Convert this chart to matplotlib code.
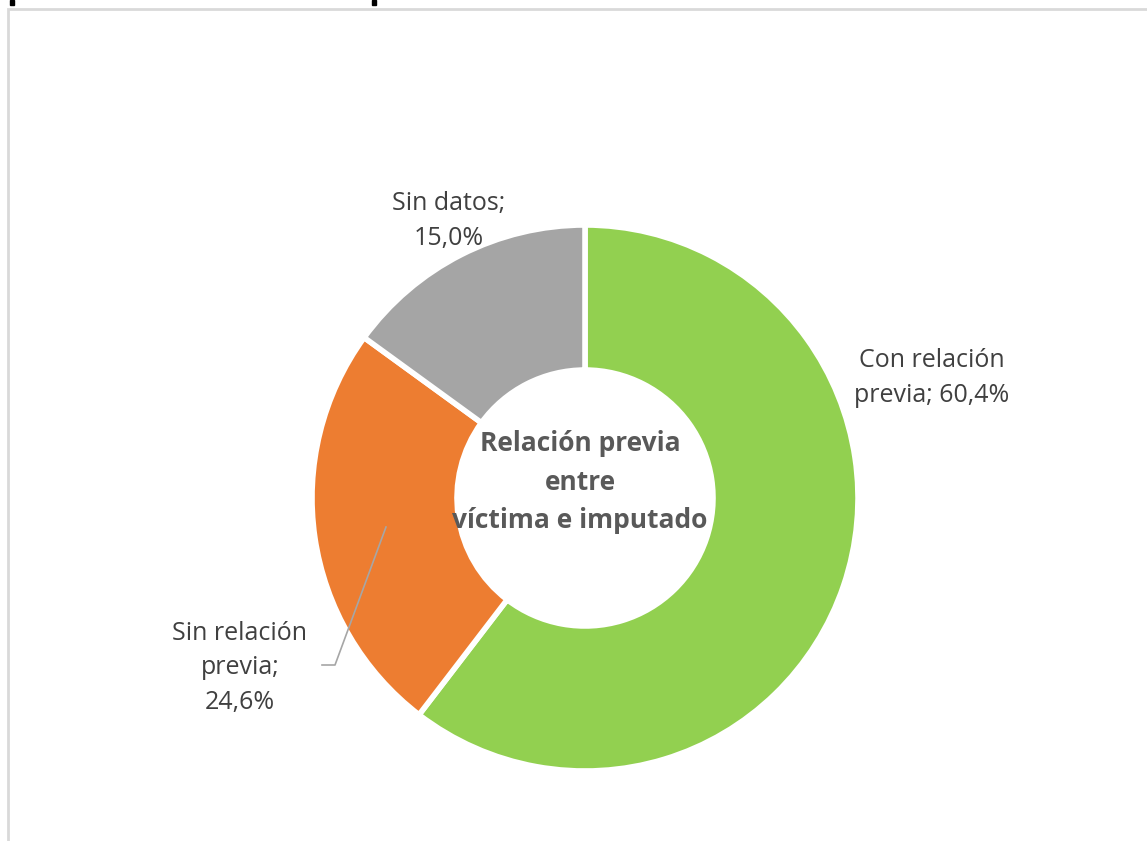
import matplotlib
matplotlib.use("Agg")
import matplotlib.pyplot as plt
from matplotlib.patches import Rectangle

categories = ["Con relación previa", "Sin relación previa", "Sin datos"]
values = [60.4, 24.6, 15.0]
colors = ["#92D050", "#ED7D31", "#A5A5A5"]
center_title = "Relación previa\nentre\nvíctima e imputado"

W, H = 1147, 841

def fmt(v):
    return f"{v:.1f}".replace(".", ",") + "%"

fig = plt.figure(figsize=(W / 100, H / 100), dpi=100)
ax = fig.add_axes([0, 0, 1, 1])

# pixel coords measured from top, flipped for the axes
cx, cy = 585, H - 498
r_out, r_in = 273, 128

ax.pie(values, colors=colors, startangle=90, counterclock=False,
       center=(cx, cy), radius=r_out, frame=True,
       wedgeprops=dict(width=r_out - r_in, edgecolor="white", linewidth=4))
ax.set_xlim(0, W)
ax.set_ylim(0, H)
ax.set_aspect("equal")
ax.axis("off")

txt = dict(fontfamily="Open Sans", fontsize=18, color="#404040",
           ha="center", va="center", linespacing=1.5)
ax.text(932, H - 378, "Con relación\nprevia; " + fmt(values[0]), **txt)
ax.text(449, H - 221, "Sin datos;\n" + fmt(values[2]), **txt)
ax.text(240, H - 668, "Sin relación\nprevia;\n" + fmt(values[1]), **txt)

# leader line for the orange slice
ax.plot([386, 335, 322], [H - 527, H - 665, H - 665], color="#A6A6A6", lw=1.2)

ax.text(580, H - 482, center_title, fontfamily="Open Sans", fontweight="bold",
        fontsize=19, color="#595959", ha="center", va="center", linespacing=1.55)

# chart area frame (cut off at right and bottom)
ax.add_patch(Rectangle((8, -10), W + 20, H - 9 + 10, fill=False,
                       edgecolor="#D9D9D9", lw=2))
# bits of the cut-off title above
ax.add_patch(Rectangle((10, H - 5), 4, 5, color="black"))
ax.add_patch(Rectangle((372, H - 5), 4, 5, color="black"))

fig.savefig("out.png", dpi=100)
